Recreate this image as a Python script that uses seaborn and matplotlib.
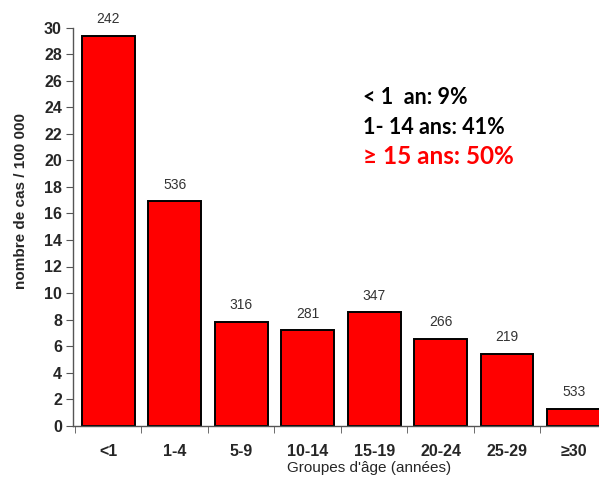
import pandas as pd
import numpy as np
import matplotlib
matplotlib.use("Agg")
import matplotlib.pyplot as plt
import seaborn as sns
from matplotlib.ticker import FixedLocator

# data
groupes = ['<1', '1-4', '5-9', '10-14', '15-19', '20-24', '25-29', '≥30']
taux = [29.4, 16.9, 7.85, 7.2, 8.55, 6.55, 5.4, 1.28]
cas = [242, 536, 316, 281, 347, 266, 219, 533]
resume = ['< 1  an: 9%', '1- 14 ans: 41%', '≥ 15 ans: 50%']

df = pd.DataFrame({'groupe': groupes, 'taux': taux})

sns.set_style('white')
plt.rcParams['font.family'] = ['Liberation Sans', 'DejaVu Sans']

fig = plt.figure(figsize=(5.99, 4.83), dpi=100)
ax = fig.add_axes([73 / 599, 1 - 425.7 / 483, 526 / 599, 398 / 483])

sns.barplot(data=df, x='groupe', y='taux', color='#ff0000', saturation=1,
            width=0.79, edgecolor='black', linewidth=1.4, ax=ax)

ax.set_xlim(-0.53, 7.38)
ax.set_ylim(0, 30)

# labels on top of bars
for i, (v, n) in enumerate(zip(taux, cas)):
    ax.annotate(str(n), (i, v), xytext=(0, 12), textcoords='offset points',
                ha='center', va='center', fontsize=10, color='#333333',
                annotation_clip=False)

# axes in the R style
for s in ['top', 'right']:
    ax.spines[s].set_visible(False)
ax.spines['left'].set_bounds(0, 30)
for s in ['left', 'bottom']:
    ax.spines[s].set_color('#555555')
    ax.spines[s].set_linewidth(1)

ax.set_yticks(np.arange(0, 31, 2))
ax.tick_params(axis='y', left=True, length=5, color='#555555', pad=3,
               labelsize=11.5)
for t in ax.get_yticklabels():
    t.set_fontweight('bold')

ax.xaxis.set_minor_locator(FixedLocator(np.arange(-0.5, 7, 1)))
ax.tick_params(axis='x', which='major', bottom=False, length=0, pad=13,
               labelsize=11.5)
ax.tick_params(axis='x', which='minor', bottom=True, length=5,
               color='#555555')
for t in ax.get_xticklabels():
    t.set_fontweight('bold')

ax.set_xlabel("Groupes d'âge (années)", fontsize=11)
ax.xaxis.set_label_coords(0.563, -0.088)
ax.set_ylabel('nombre de cas / 100 000', fontsize=11, fontweight='bold')
ax.yaxis.set_label_coords(-0.086, 0.565)

# summary text
txt_font = ['Lato', 'DejaVu Sans']
fig.text(363 / 599, 1 - 97 / 483, resume[0], fontsize=15.5, fontweight='bold',
         family=txt_font, va='center', ha='left', color='black')
fig.text(363 / 599, 1 - 127 / 483, resume[1], fontsize=15.5, fontweight='bold',
         family=txt_font, va='center', ha='left', color='black')
fig.text(363 / 599, 1 - 157 / 483, resume[2], fontsize=17.5, fontweight='bold',
         family=txt_font, va='center', ha='left', color='#ff0000')

fig.savefig('out.png', dpi=100)
